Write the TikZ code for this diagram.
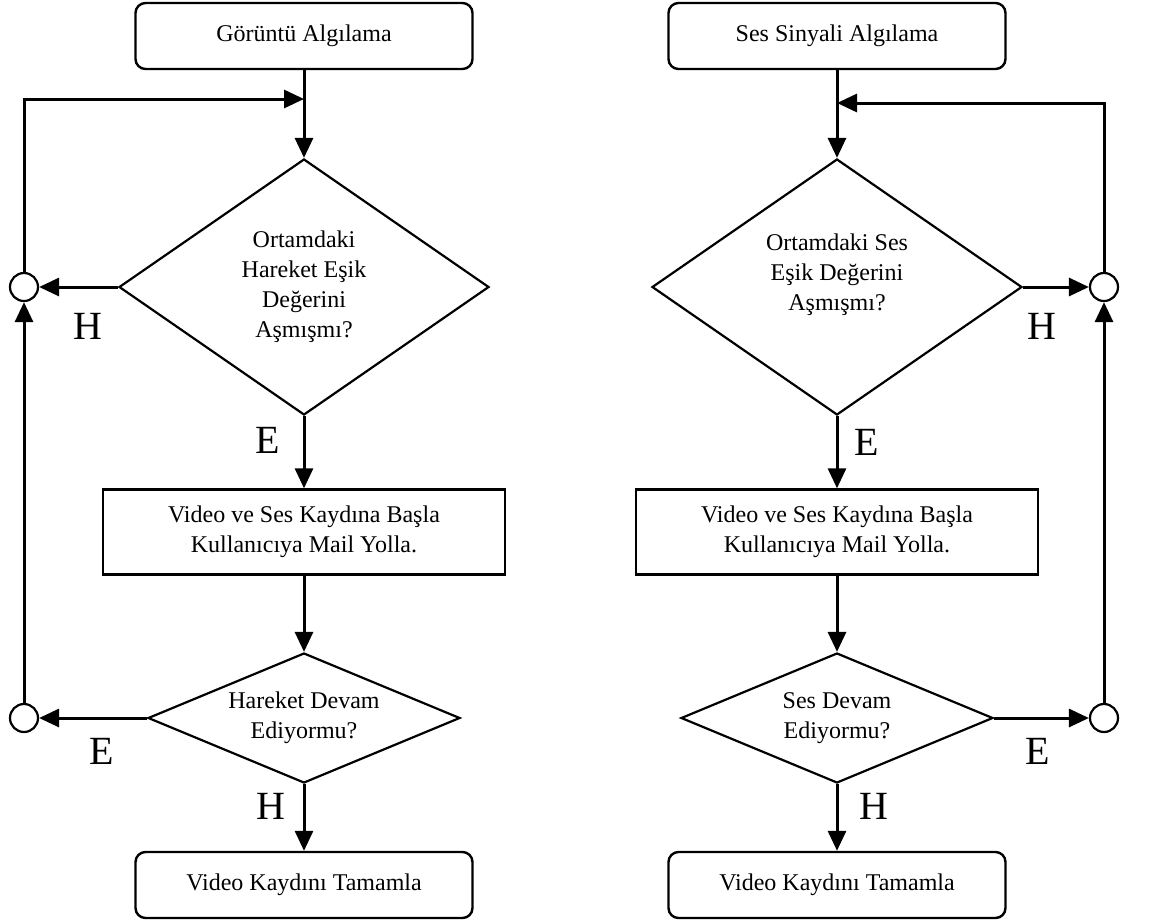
\documentclass[tikz,border=0pt]{standalone}
\usepackage{fontspec}
\setmainfont{Liberation Serif}
\usetikzlibrary{shapes.geometric,arrows.meta}
\begin{document}
\begin{tikzpicture}[x=0.5pt,y=-0.5pt,font=\fontsize{12}{15}\selectfont,
  startbox/.style={draw,line width=1.2pt,rounded corners=5pt,minimum width=168.5pt,minimum height=33pt,inner sep=0pt},
  actbox/.style={draw,line width=1.2pt,minimum width=201pt,minimum height=42.5pt,inner sep=0pt,align=center},
  bigdec/.style={draw,diamond,line width=1.1pt,aspect=1.45,minimum width=185pt,minimum height=128pt,inner sep=0pt,align=center},
  smalldec/.style={draw,diamond,line width=1.1pt,aspect=2.4,minimum width=156pt,minimum height=65pt,inner sep=0pt,align=center},
  joint/.style={draw,circle,line width=1.1pt,minimum size=14pt,inner sep=0pt},
  flow/.style={-{Triangle[length=10pt,width=9pt]},line width=1.5pt},
  yn/.style={font=\fontsize{20}{24}\selectfont,inner sep=0pt}]
  \useasboundingbox (0,0) rectangle (1163,923);
  % left column: image
  \node[startbox] (goruntu) at (304,36) {Görüntü Algılama};
  \node[bigdec] (hareketesik) at (304,287) {Ortamdaki\\Hareket Eşik\\Değerini\\Aşmışmı?};
  \node[actbox] (kayit1) at (304,532) {Video ve Ses Kaydına Başla\\Kullanıcıya Mail Yolla.};
  \node[smalldec] (hareketdevam) at (304,718) {Hareket Devam\\Ediyormu?};
  \node[startbox] (bitis1) at (304,885) {Video Kaydını Tamamla};
  \node[joint] (dugumA) at (24,287) {};
  \node[joint] (dugumB) at (24,718) {};
  \coordinate (girisA) at (304,99);
  \draw[flow] (goruntu) -- (hareketesik);
  \draw[flow] (hareketesik) -- (kayit1);
  \draw[flow] (kayit1) -- (hareketdevam);
  \draw[flow] (hareketdevam) -- (bitis1);
  \draw[flow] (hareketesik.west) -- (dugumA);
  \draw[flow] (hareketdevam.west) -- (dugumB);
  \draw[flow] (dugumB) -- (dugumA);
  \draw[flow] (dugumA) |- (girisA);
  \node[yn] (hA) at (88,326) {H};
  \node[yn] (eA) at (268,440) {E};
  \node[yn] (eB) at (102,751) {E};
  \node[yn] (hB) at (271,806) {H};
  % right column: sound
  \node[startbox] (ses) at (837,36) {Ses Sinyali Algılama};
  \node[bigdec] (sesesik) at (837,287) {Ortamdaki Ses\\Eşik Değerini\\Aşmışmı?\\\mbox{}};
  \node[actbox] (kayit2) at (837,532) {Video ve Ses Kaydına Başla\\Kullanıcıya Mail Yolla.};
  \node[smalldec] (sesdevam) at (837,718) {Ses Devam\\Ediyormu?};
  \node[startbox] (bitis2) at (837,885) {Video Kaydını Tamamla};
  \node[joint] (dugumC) at (1104,287) {};
  \node[joint] (dugumD) at (1104,718) {};
  \coordinate (girisB) at (837,103);
  \draw[flow] (ses) -- (sesesik);
  \draw[flow] (sesesik) -- (kayit2);
  \draw[flow] (kayit2) -- (sesdevam);
  \draw[flow] (sesdevam) -- (bitis2);
  \draw[flow] (sesesik.east) -- (dugumC);
  \draw[flow] (sesdevam.east) -- (dugumD);
  \draw[flow] (dugumD) -- (dugumC);
  \draw[flow] (dugumC) |- (girisB);
  \node[yn] (hC) at (1042,326) {H};
  \node[yn] (eC) at (867,442) {E};
  \node[yn] (eD) at (1038,751) {E};
  \node[yn] (hD) at (874,806) {H};
\end{tikzpicture}
\end{document}
